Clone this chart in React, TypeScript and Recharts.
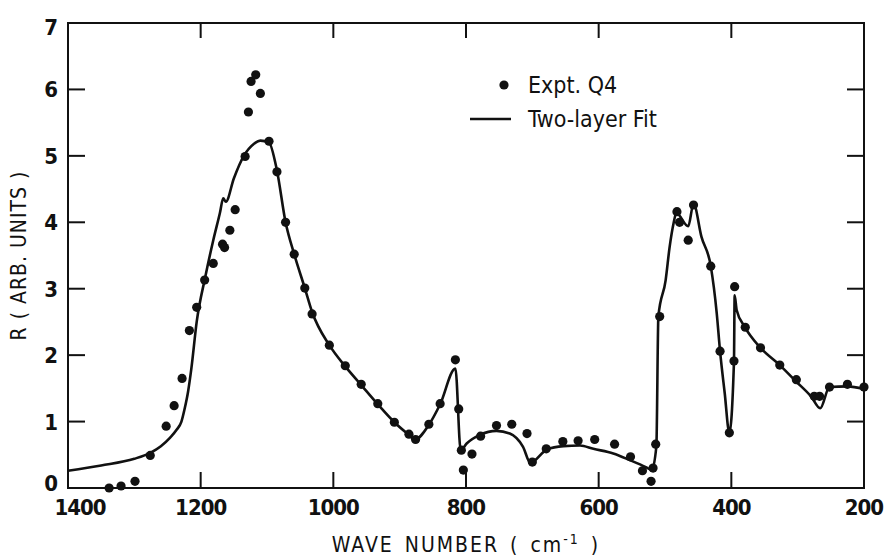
import {
  ComposedChart,
  Legend,
  Line,
  ReferenceArea,
  Scatter,
  XAxis,
  YAxis,
} from "recharts";

// measured points, wave number (cm-1) and reflectance
const exptWave = [
  1338, 1320, 1299, 1276, 1252, 1240, 1228, 1217, 1206, 1194, 1181, 1167, 1164,
  1156, 1148, 1133, 1128, 1124, 1117, 1110, 1097, 1085, 1072, 1059, 1043, 1032,
  1006, 982, 958, 933, 908, 886, 876, 856, 839, 816, 811, 807, 804, 791, 778,
  754, 731, 708, 700, 679, 654, 631, 606, 576, 552, 534, 521, 518, 514, 508,
  482, 478, 465, 457, 431, 417, 403, 396, 395, 379, 356, 327, 302, 275, 267,
  252, 225, 200,
];
const exptR = [
  0.0, 0.03, 0.1, 0.49, 0.93, 1.24, 1.65, 2.37, 2.72, 3.13, 3.38, 3.67, 3.62,
  3.88, 4.19, 4.99, 5.66, 6.12, 6.22, 5.94, 5.22, 4.76, 4.0, 3.52, 3.01, 2.62,
  2.15, 1.84, 1.56, 1.27, 0.99, 0.81, 0.73, 0.96, 1.27, 1.93, 1.19, 0.57, 0.27,
  0.51, 0.78, 0.94, 0.96, 0.82, 0.39, 0.59, 0.7, 0.71, 0.73, 0.66, 0.47, 0.26,
  0.1, 0.3, 0.66, 2.58, 4.16, 4.0, 3.73, 4.26, 3.34, 2.06, 0.83, 1.91, 3.03,
  2.42, 2.11, 1.85, 1.63, 1.38, 1.38, 1.52, 1.56, 1.52,
];

// two-layer fit curve
const fitWave = [
  1400, 1350, 1300, 1276, 1260, 1246, 1236, 1229, 1224, 1219, 1214, 1206, 1193,
  1181, 1171, 1166, 1162, 1150, 1135, 1120, 1110, 1097, 1085, 1072, 1059, 1043,
  1032, 1006, 982, 958, 933, 908, 886, 877, 856, 839, 816, 808, 799, 779, 754,
  734, 714, 703, 678, 653, 628, 608, 578, 553, 528, 520, 513, 510, 499, 493,
  487, 483, 465, 457, 445, 431, 422, 417, 410, 403, 396, 395, 392, 380, 356,
  327, 302, 280, 266, 252, 225, 200,
];
const fitR = [
  0.26, 0.34, 0.44, 0.53, 0.63, 0.76, 0.88, 1.0, 1.2, 1.45, 1.8, 2.5, 3.18,
  3.73, 4.14, 4.36, 4.31, 4.66, 5.0, 5.18, 5.23, 5.2, 4.78, 4.0, 3.52, 3.01,
  2.65, 2.15, 1.83, 1.55, 1.26, 0.99, 0.8, 0.73, 0.95, 1.26, 1.8, 0.57, 0.67,
  0.8, 0.86, 0.82, 0.62, 0.38, 0.58, 0.63, 0.64, 0.59, 0.52, 0.42, 0.31, 0.27,
  0.63, 2.58, 3.13, 3.63, 3.99, 4.14, 3.94, 4.28, 3.78, 3.34, 2.63, 2.06, 1.43,
  0.83, 1.91, 2.9, 2.68, 2.43, 2.11, 1.85, 1.6, 1.38, 1.2, 1.52, 1.53, 1.49,
];

const xTicks = [1400, 1200, 1000, 800, 600, 400, 200];
const yTicks = [0, 1, 2, 3, 4, 5, 6, 7];

const W = 885;
const H = 558;
const PLOT = { left: 68, right: 864, top: 23, bottom: 488 };
const INK = "#111";
const FONT = "'DejaVu Sans Condensed', 'DejaVu Sans', sans-serif";

const expt = exptWave.map((w, i) => ({ w, r: exptR[i] }));
const fit = fitWave.map((w, i) => ({ w, r: fitR[i] }));

function XTick(props: any) {
  const { x, payload } = props;
  const v = payload.value;
  const inner = v !== 1400 && v !== 200;
  const dx = v === 1400 ? 12 : 0;
  return (
    <g>
      {inner && (
        <>
          <line x1={x} x2={x} y1={PLOT.bottom} y2={PLOT.bottom - 16} stroke={INK} strokeWidth={2} />
          <line x1={x} x2={x} y1={PLOT.top} y2={PLOT.top + 15} stroke={INK} strokeWidth={2} />
        </>
      )}
      <text
        x={x + dx}
        y={PLOT.bottom + 27}
        textAnchor="middle"
        fontFamily={FONT}
        fontSize={22}
        fontWeight={600}
        letterSpacing={-1}
        fill={INK}
      >
        {v}
      </text>
    </g>
  );
}

function YTick(props: any) {
  const { y, payload } = props;
  const v = payload.value;
  const inner = v !== 0 && v !== 7;
  const dy = v === 0 ? -5 : v === 7 ? 4 : 0;
  return (
    <g>
      {inner && (
        <>
          <line x1={PLOT.left} x2={PLOT.left + 17} y1={y} y2={y} stroke={INK} strokeWidth={2} />
          <line x1={PLOT.right} x2={PLOT.right - 17} y1={y} y2={y} stroke={INK} strokeWidth={2} />
        </>
      )}
      <text
        x={PLOT.left - 10}
        y={y + dy + 8}
        textAnchor="end"
        fontFamily={FONT}
        fontSize={22}
        fontWeight={600}
        fill={INK}
      >
        {v}
      </text>
    </g>
  );
}

function YLabel(props: any) {
  const { viewBox } = props;
  const cy = viewBox.y + viewBox.height / 2;
  return (
    <text
      x={19}
      y={cy}
      transform={`rotate(-90 19 ${cy})`}
      textAnchor="middle"
      dominantBaseline="central"
      fontFamily={FONT}
      fontSize={21}
      fontWeight={500}
      letterSpacing={1}
      fill={INK}
    >
      R ( ARB. UNITS )
    </text>
  );
}

function XLabel(props: any) {
  const { viewBox } = props;
  const cx = viewBox.x + viewBox.width / 2;
  return (
    <text
      x={cx}
      y={552}
      textAnchor="middle"
      fontFamily={FONT}
      fontSize={21}
      fontWeight={500}
      letterSpacing={2}
      wordSpacing={3}
      fill={INK}
    >
      WAVE NUMBER ( cm
      <tspan dy={-8} fontSize={14}>-1</tspan>
      <tspan dy={8}>{"\u00a0)"}</tspan>
    </text>
  );
}

function LegendBox() {
  return (
    <div style={{ fontFamily: FONT, fontSize: 23, fontWeight: 500, color: INK, lineHeight: "34px" }}>
      <div style={{ display: "flex", alignItems: "center" }}>
        <svg width={58} height={20}>
          <circle cx={34} cy={10} r={4.6} fill={INK} />
        </svg>
        <span>Expt. Q4</span>
      </div>
      <div style={{ display: "flex", alignItems: "center" }}>
        <svg width={58} height={20}>
          <line x1={0} x2={41} y1={10} y2={10} stroke={INK} strokeWidth={2.5} />
        </svg>
        <span>Two-layer Fit</span>
      </div>
    </div>
  );
}

export default function App() {
  return (
    <div style={{ position: "absolute", left: 0, top: 0, width: W, height: H, background: "#fff" }}>
      <ComposedChart width={W} height={H} margin={{ top: 23, right: 21, bottom: 0, left: 0 }}>
        <XAxis
          type="number"
          dataKey="w"
          domain={[200, 1400]}
          reversed
          ticks={xTicks}
          interval={0}
          axisLine={false}
          tickLine={false}
          tickSize={0}
          height={70}
          tick={<XTick />}
          label={<XLabel />}
        />
        <YAxis
          type="number"
          dataKey="r"
          domain={[0, 7]}
          ticks={yTicks}
          interval={0}
          axisLine={false}
          tickLine={false}
          tickSize={0}
          width={68}
          tick={<YTick />}
          label={<YLabel />}
        />
        <ReferenceArea x1={1400} x2={200} y1={0} y2={7} fill="none" stroke={INK} strokeWidth={2} />
        <Legend
          layout="horizontal"
          verticalAlign="middle"
          align="center"
          content={<LegendBox />}
          wrapperStyle={{ left: 470, top: 68, width: 260 }}
        />
        <Line
          data={fit}
          dataKey="r"
          type="monotone"
          stroke={INK}
          strokeWidth={2.6}
          dot={false}
          activeDot={false}
          isAnimationActive={false}
          legendType="line"
          name="Two-layer Fit"
        />
        <Scatter
          data={expt}
          dataKey="r"
          fill={INK}
          isAnimationActive={false}
          name="Expt. Q4"
          shape={(p: any) => <circle cx={p.cx} cy={p.cy} r={4.6} fill={INK} />}
        />
      </ComposedChart>
    </div>
  );
}
